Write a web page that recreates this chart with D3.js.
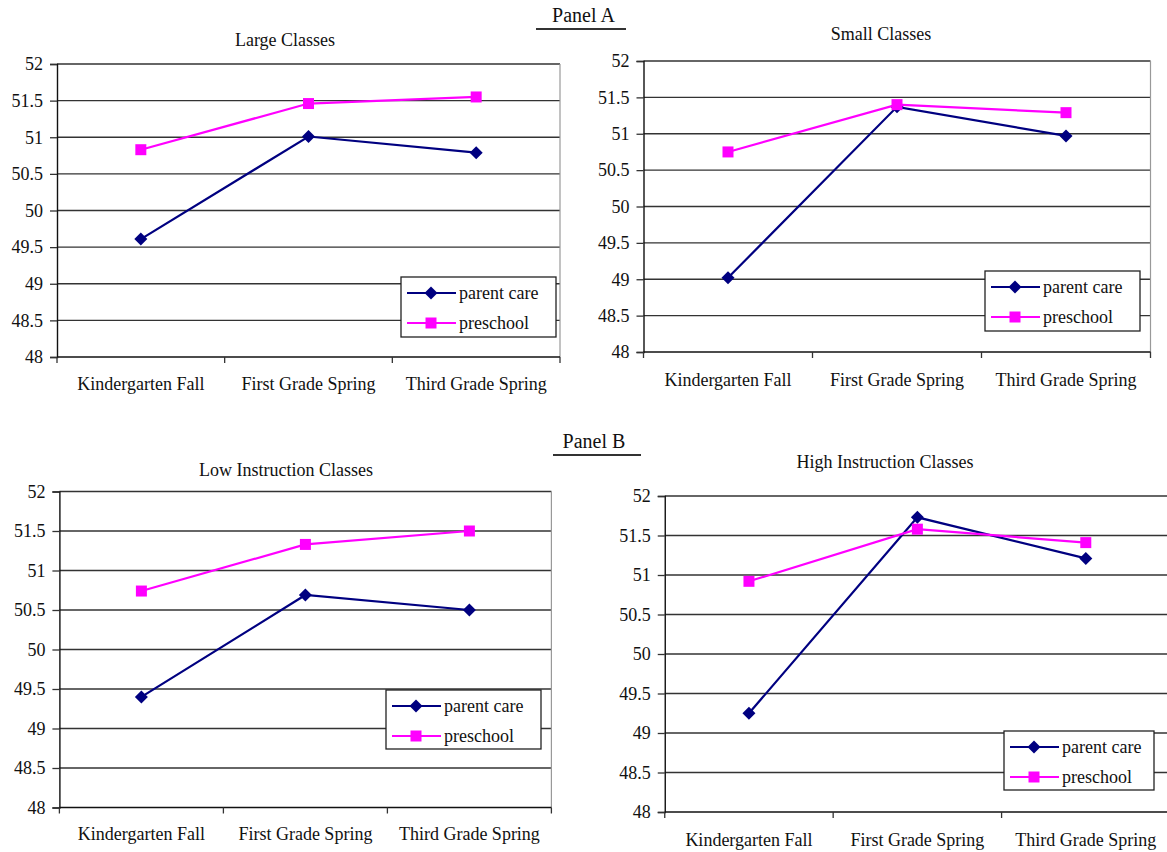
<!DOCTYPE html>
<html>
<head>
<meta charset="utf-8">
<script src="https://cdn.jsdelivr.net/npm/d3@7"></script>
<style>
  html, body { margin: 0; padding: 0; background: #fff; }
  svg { display: block; }
  svg text { font-family: "Liberation Serif", "Times New Roman", Times, serif !important; fill: #111; }
</style>
</head>
<body>
<svg id="chart" width="1167" height="852"></svg>
<script>
// ---- data ----
const categories = ["Kindergarten Fall", "First Grade Spring", "Third Grade Spring"];
const yTicks = [48, 48.5, 49, 49.5, 50, 50.5, 51, 51.5, 52];
const seriesNames = ["parent care", "preschool"];

const largeParent    = [49.61, 51.01, 50.79];
const largePreschool = [50.83, 51.46, 51.55];
const smallParent    = [49.02, 51.37, 50.97];
const smallPreschool = [50.75, 51.40, 51.29];
const lowParent      = [49.40, 50.69, 50.50];
const lowPreschool   = [50.74, 51.33, 51.50];
const highParent     = [49.25, 51.73, 51.21];
const highPreschool  = [50.92, 51.58, 51.41];

const panelTitles = ["Large Classes", "Small Classes", "Low Instruction Classes", "High Instruction Classes"];
const sectionLabels = ["Panel A", "Panel B"];

// ---- layout ----
const SERIF = '"Liberation Serif", "Times New Roman", Times, serif';
const colors = ["#000080", "#FF00FF"];
const layouts = [
  { left: 57,    right: 560,    top: 64,    bottom: 357,   titleX: 285, titleY: 46,  catY: 390, legend: { x: 401,  y: 277, w: 155, h: 60 } },
  { left: 643.5, right: 1150.5, top: 61,    bottom: 352,   titleX: 881, titleY: 40,  catY: 386, legend: { x: 985,  y: 271, w: 155, h: 60 } },
  { left: 59.4,  right: 551.4,  top: 491.5, bottom: 807.5, titleX: 286, titleY: 476, catY: 840, legend: { x: 386,  y: 690, w: 155, h: 59 } },
  { left: 664.75,right: 1170,   top: 496,   bottom: 812,   titleX: 885, titleY: 468, catY: 846, legend: { x: 1004, y: 731, w: 150, h: 59 } }
];
const panelData = [
  [largeParent, largePreschool],
  [smallParent, smallPreschool],
  [lowParent, lowPreschool],
  [highParent, highPreschool]
];

const svg = d3.select("#chart");

function txt(sel) {
  return sel.style("font-family", SERIF).style("fill", "#111");
}

// section headers
const sections = [
  { x: 583.5, y: 22,  x1: 536, x2: 626, uy: 29 },
  { x: 594,   y: 448, x1: 553, x2: 641, uy: 455 }
];
sections.forEach((s, i) => {
  txt(svg.append("text").attr("x", s.x).attr("y", s.y).attr("text-anchor", "middle")
    .style("font-size", "20px").text(sectionLabels[i]));
  svg.append("line").attr("x1", s.x1).attr("x2", s.x2).attr("y1", s.uy).attr("y2", s.uy)
    .attr("stroke", "#333").attr("stroke-width", 2);
});

const diamondPath = "M0,-6.5L6.5,0L0,6.5L-6.5,0Z";
function marker(g, i) {
  if (i === 0) {
    g.append("path").attr("d", diamondPath).attr("fill", colors[0]);
  } else {
    g.append("path").attr("d", d3.symbol(d3.symbolSquare, 121)()).attr("fill", colors[1]);
  }
}

layouts.forEach((L, p) => {
  const g = svg.append("g");
  const x = d3.scaleBand().domain(categories).range([L.left, L.right]).padding(0);
  const y = d3.scaleLinear().domain([48, 52]).range([L.bottom, L.top]);

  // gridlines
  g.append("g").selectAll("line").data(yTicks.filter(d => d !== 48)).join("line")
    .attr("x1", L.left).attr("x2", L.right)
    .attr("y1", d => y(d)).attr("y2", d => y(d))
    .attr("stroke", "#333").attr("stroke-width", 1.4);

  // right border
  g.append("line").attr("x1", L.right).attr("x2", L.right).attr("y1", L.top).attr("y2", L.bottom)
    .attr("stroke", "#999").attr("stroke-width", 1.2);

  // y axis
  const yAxis = g.append("g").attr("transform", `translate(${L.left},0)`)
    .call(d3.axisLeft(y).tickValues(yTicks).tickSize(7).tickPadding(7).tickFormat(d3.format("~g")));
  yAxis.attr("font-family", null).attr("font-size", null);
  yAxis.select(".domain").attr("stroke", "#111").attr("stroke-width", 1.4);
  yAxis.selectAll(".tick line").attr("stroke", "#333").attr("stroke-width", 1.3);
  txt(yAxis.selectAll(".tick text")).style("font-size", "18px");

  // x axis (ticks at band boundaries)
  const boundaries = d3.range(categories.length + 1).map(i => L.left + i * x.bandwidth());
  g.append("line").attr("x1", L.left).attr("x2", L.right).attr("y1", L.bottom).attr("y2", L.bottom)
    .attr("stroke", "#111").attr("stroke-width", 1.4);
  g.append("g").selectAll("line").data(boundaries).join("line")
    .attr("x1", d => d).attr("x2", d => d).attr("y1", L.bottom).attr("y2", L.bottom + 6)
    .attr("stroke", "#333").attr("stroke-width", 1.3);
  txt(g.append("g").selectAll("text").data(categories).join("text")
    .attr("x", d => x(d) + x.bandwidth() / 2).attr("y", L.catY)
    .attr("text-anchor", "middle").style("font-size", "18px").text(d => d));

  // title
  txt(g.append("text").attr("x", L.titleX).attr("y", L.titleY).attr("text-anchor", "middle")
    .style("font-size", "18px").text(panelTitles[p]));

  // series
  const cx = c => x(c) + x.bandwidth() / 2;
  panelData[p].forEach((vals, si) => {
    const pts = categories.map((c, k) => [cx(c), y(vals[k])]);
    g.append("path").attr("d", d3.line()(pts)).attr("fill", "none")
      .attr("stroke", colors[si]).attr("stroke-width", 2.2);
    pts.forEach(pt => {
      const m = g.append("g").attr("transform", `translate(${pt[0]},${pt[1]})`);
      marker(m, si);
    });
  });

  // legend
  const lg = g.append("g").attr("transform", `translate(${L.legend.x},${L.legend.y})`);
  lg.append("rect").attr("width", L.legend.w).attr("height", L.legend.h)
    .attr("fill", "#fff").attr("stroke", "#222").attr("stroke-width", 1.3);
  seriesNames.forEach((name, si) => {
    const ry = 16 + si * 30;
    lg.append("line").attr("x1", 6).attr("x2", 55).attr("y1", ry).attr("y2", ry)
      .attr("stroke", colors[si]).attr("stroke-width", 2.2);
    const m = lg.append("g").attr("transform", `translate(30,${ry})`);
    marker(m, si);
    txt(lg.append("text").attr("x", 58).attr("y", ry + 6).style("font-size", "18px").text(name));
  });
});
</script>
</body>
</html>
